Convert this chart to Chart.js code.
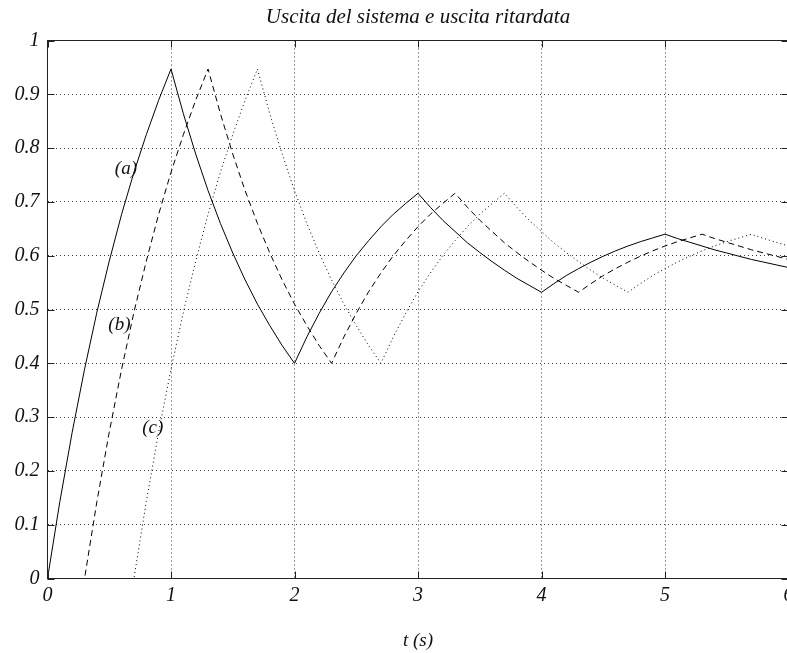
<!DOCTYPE html>
<html>
<head>
<meta charset="utf-8">
<title>Uscita del sistema e uscita ritardata</title>
<script src="https://cdn.jsdelivr.net/npm/chart.js@4.4.1/dist/chart.umd.min.js"></script>
<style>
  html, body { margin: 0; padding: 0; background: #fff; overflow: hidden; }
  #wrap { position: relative; width: 787px; height: 653px; overflow: hidden; }
  #chart { position: absolute; left: 0; top: 0; }
</style>
</head>
<body>
<div id="wrap"><canvas id="chart" width="800" height="653"></canvas></div>
<script>
// output of the system, y(t), read every 0.1 s
const timeSamples = [
  0, 0.1, 0.2, 0.3, 0.4, 0.5, 0.6, 0.7, 0.8, 0.9,
  1.0, 1.1, 1.2, 1.3, 1.4, 1.5, 1.6, 1.7, 1.8, 1.9,
  2.0, 2.1, 2.2, 2.3, 2.4, 2.5, 2.6, 2.7, 2.8, 2.9,
  3.0, 3.1, 3.2, 3.3, 3.4, 3.5, 3.6, 3.7, 3.8, 3.9,
  4.0, 4.1, 4.2, 4.3, 4.4, 4.5, 4.6, 4.7, 4.8, 4.9,
  5.0, 5.1, 5.2, 5.3, 5.4, 5.5, 5.6, 5.7, 5.8, 5.9,
  6.0,
];
const outputSamples = [
  0, 0.143, 0.272, 0.389, 0.495, 0.59, 0.677, 0.755, 0.825, 0.889,
  0.947, 0.864, 0.789, 0.721, 0.66, 0.605, 0.555, 0.51, 0.47, 0.433,
  0.4, 0.449, 0.493, 0.533, 0.568, 0.6, 0.628, 0.654, 0.677, 0.697,
  0.716, 0.69, 0.666, 0.645, 0.624, 0.606, 0.589, 0.573, 0.558, 0.545,
  0.532, 0.548, 0.563, 0.576, 0.588, 0.599, 0.609, 0.618, 0.626, 0.633,
  0.64, 0.632, 0.625, 0.618, 0.611, 0.605, 0.599, 0.593, 0.588, 0.583,
  0.578,
];

// (a) is the output itself, (b) and (c) the same output delayed
const curveNames = ["(a)", "(b)", "(c)"];
const curveDelays = [0, 0.3, 0.7];

const xTickLabels = ["0", "1", "2", "3", "4", "5", "6"];
const yTickLabels = ["0", "0.1", "0.2", "0.3", "0.4", "0.5", "0.6", "0.7", "0.8", "0.9", "1"];

const serif = "'Liberation Serif', 'Times New Roman', serif";
const lineDashes = [[], [6, 4], [1, 3]];
// tag anchors in data units (t, y)
const tagAnchors = [
  [0.635, 0.761],
  [0.582, 0.471],
  [0.852, 0.279],
];

function delayedCurve(delay) {
  const points = [];
  if (delay > 0) {
    points.push({ x: 0, y: 0 }, { x: delay, y: 0 });
  }
  timeSamples.forEach((t, i) => {
    points.push({ x: t + delay, y: outputSamples[i] });
  });
  return points;
}

// box round the axes with inward tick marks, plus the curve tags
const axesFrame = {
  id: "axesFrame",
  afterDatasetsDraw(chart) {
    const { ctx, chartArea, scales } = chart;
    const { left, right, top, bottom } = chartArea;
    const tick = 7;

    ctx.save();
    ctx.strokeStyle = "#222";
    ctx.lineWidth = 1;
    ctx.strokeRect(left, top, right - left, bottom - top);

    ctx.beginPath();
    scales.x.ticks.forEach((t) => {
      const px = Math.round(scales.x.getPixelForValue(t.value)) + 0.5;
      ctx.moveTo(px, bottom);
      ctx.lineTo(px, bottom - tick);
      ctx.moveTo(px, top);
      ctx.lineTo(px, top + tick);
    });
    scales.y.ticks.forEach((t) => {
      const py = Math.round(scales.y.getPixelForValue(t.value)) + 0.5;
      ctx.moveTo(left, py);
      ctx.lineTo(left + tick, py);
      ctx.moveTo(right, py);
      ctx.lineTo(right - tick, py);
    });
    ctx.stroke();

    ctx.font = `italic 19px ${serif}`;
    ctx.fillStyle = "#111";
    ctx.textAlign = "center";
    ctx.textBaseline = "middle";
    curveNames.forEach((name, i) => {
      const [t, v] = tagAnchors[i];
      ctx.fillText(name, scales.x.getPixelForValue(t), scales.y.getPixelForValue(v));
    });
    ctx.restore();
  },
};

const datasets = curveNames.map((name, i) => ({
  label: name,
  data: delayedCurve(curveDelays[i]),
  borderColor: "#000",
  borderWidth: 1,
  borderDash: lineDashes[i],
  pointRadius: 0,
  tension: 0,
  fill: false,
}));

const gridStyle = {
  color: "#3a3a3a",
  lineWidth: 1,
  drawTicks: false,
};

new Chart(document.getElementById("chart"), {
  type: "line",
  data: { datasets: datasets },
  options: {
    responsive: false,
    animation: false,
    devicePixelRatio: 1,
    layout: { padding: { left: 0, right: 11.5, top: 0, bottom: 0 } },
    plugins: {
      legend: { display: false },
      tooltip: { enabled: false },
      title: {
        display: true,
        fullSize: false,
        text: "Uscita del sistema e uscita ritardata",
        color: "#111",
        font: { family: serif, size: 21, style: "italic", weight: "normal", lineHeight: 1.2 },
        padding: { top: 4.4, bottom: 10.9 },
      },
    },
    scales: {
      x: {
        type: "linear",
        min: 0,
        max: 6,
        grid: gridStyle,
        border: { display: false, dash: [1, 3] },
        ticks: {
          stepSize: 1,
          padding: 5,
          color: "#111",
          maxRotation: 0,
          autoSkip: false,
          font: { family: serif, size: 20, style: "italic" },
          callback: (value, index) => xTickLabels[index],
        },
        title: {
          display: true,
          text: "t (s)",
          color: "#111",
          font: { family: serif, size: 19, style: "italic", lineHeight: 1.2 },
          padding: { top: 0, bottom: 1 },
        },
        afterFit: (scale) => {
          scale.height = 74.5;
        },
      },
      y: {
        min: 0,
        max: 1,
        grid: gridStyle,
        border: { display: false, dash: [1, 3] },
        ticks: {
          stepSize: 0.1,
          padding: 8,
          color: "#111",
          autoSkip: false,
          font: { family: serif, size: 20, style: "italic" },
          callback: (value, index) => yTickLabels[index],
        },
        afterFit: (scale) => {
          scale.width = 47.5;
        },
      },
    },
  },
  plugins: [axesFrame],
});
</script>
</body>
</html>
